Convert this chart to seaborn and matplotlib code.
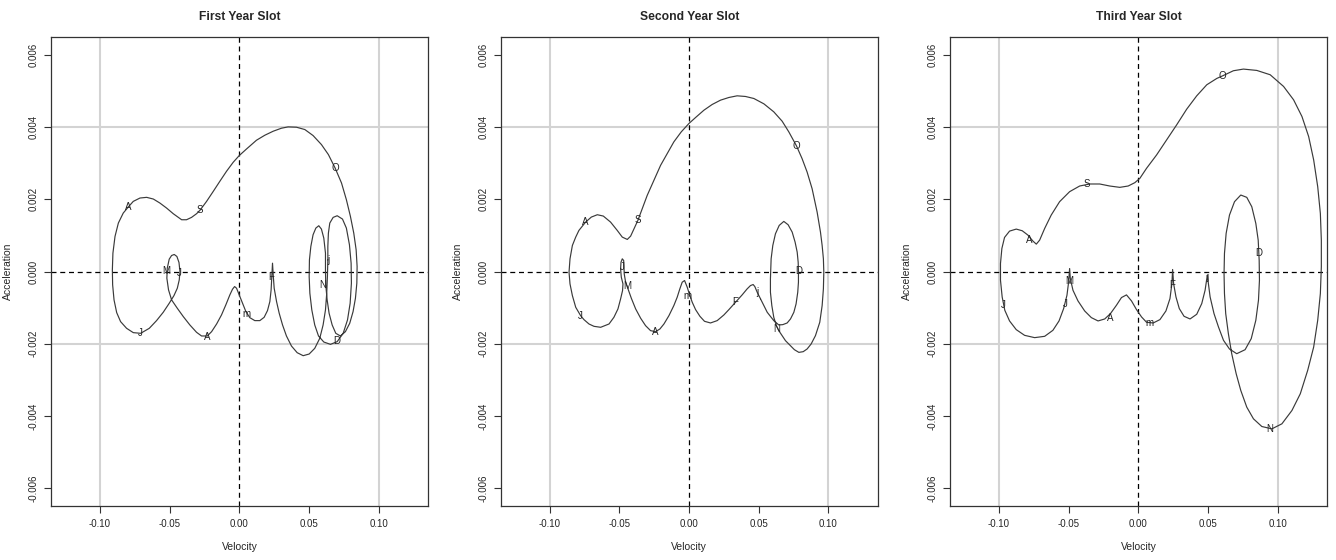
import numpy as np
import pandas as pd
import seaborn as sns
from matplotlib import pyplot as plt

# velocity / acceleration (acceleration in units of 1e-3)
vel1 = [0.0636, 0.0633, 0.0628, 0.0619, 0.0602, 0.0578, 0.0542, 0.0502, 0.0459, 0.0416,
        0.0375, 0.0339, 0.0311, 0.0287, 0.0268, 0.0251, 0.0244, 0.0239, 0.0234, 0.0229,
        0.0220, 0.0203, 0.0179, 0.0148, 0.0112, 0.0076, 0.0048, 0.0024, 0.0000, -0.0019,
        -0.0033, -0.0048, -0.0067, -0.0096, -0.0127, -0.0162, -0.0198, -0.0229, -0.0270, -0.0306,
        -0.0354, -0.0401, -0.0444, -0.0485, -0.0507, -0.0519, -0.0516, -0.0502, -0.0485, -0.0466,
        -0.0447, -0.0432, -0.0425, -0.0430, -0.0444, -0.0468, -0.0502, -0.0545, -0.0593, -0.0645,
        -0.0707, -0.0760, -0.0808, -0.0851, -0.0879, -0.0898, -0.0908, -0.0910, -0.0906, -0.0891,
        -0.0867, -0.0832, -0.0796, -0.0760, -0.0712, -0.0664, -0.0616, -0.0569, -0.0521, -0.0473,
        -0.0413, -0.0378, -0.0342, -0.0306, -0.0282, -0.0234, -0.0186, -0.0139, -0.0091, -0.0043,
        0.0000, 0.0053, 0.0124, 0.0184, 0.0244, 0.0303, 0.0351, 0.0411, 0.0471, 0.0530,
        0.0590, 0.0640, 0.0688, 0.0734, 0.0769, 0.0798, 0.0822, 0.0839, 0.0846, 0.0844,
        0.0834, 0.0817, 0.0793, 0.0762, 0.0726, 0.0693, 0.0667, 0.0645, 0.0631, 0.0621,
        0.0619, 0.0619, 0.0607, 0.0590, 0.0571, 0.0550, 0.0530, 0.0514, 0.0504, 0.0502,
        0.0507, 0.0521, 0.0542, 0.0569, 0.0607, 0.0655, 0.0703, 0.0746, 0.0777, 0.0796,
        0.0805, 0.0803, 0.0791, 0.0769, 0.0741, 0.0703, 0.0674, 0.0650, 0.0640, 0.0636]
acc1 = [0.324, -0.139, -0.602, -1.065, -1.481, -1.852, -2.130, -2.287, -2.333, -2.250,
        -2.065, -1.787, -1.481, -1.157, -0.833, -0.463, -0.093, 0.231, -0.139, -0.509,
        -0.833, -1.083, -1.269, -1.361, -1.361, -1.278, -1.111, -0.880, -0.648, -0.463,
        -0.417, -0.491, -0.648, -0.926, -1.204, -1.454, -1.667, -1.787, -1.787, -1.685,
        -1.481, -1.250, -1.019, -0.787, -0.509, -0.185, 0.093, 0.343, 0.444, 0.472,
        0.417, 0.250, 0.000, -0.231, -0.463, -0.667, -0.880, -1.130, -1.361, -1.574,
        -1.713, -1.694, -1.574, -1.389, -1.139, -0.787, -0.370, 0.046, 0.509, 0.972,
        1.343, 1.620, 1.787, 1.944, 2.037, 2.056, 2.009, 1.898, 1.759, 1.602,
        1.435, 1.435, 1.500, 1.602, 1.694, 1.944, 2.222, 2.500, 2.778, 3.028,
        3.213, 3.398, 3.639, 3.778, 3.889, 3.972, 4.009, 4.000, 3.935, 3.769,
        3.519, 3.241, 2.870, 2.454, 1.991, 1.528, 1.065, 0.602, 0.139, -0.324,
        -0.741, -1.111, -1.435, -1.667, -1.787, -1.713, -1.481, -1.157, -0.787, -0.370,
        0.046, 0.509, 0.926, 1.176, 1.269, 1.204, 1.019, 0.694, 0.324, -0.139,
        -0.602, -1.065, -1.481, -1.787, -1.954, -2.019, -1.944, -1.713, -1.343, -0.880,
        -0.324, 0.231, 0.741, 1.204, 1.454, 1.546, 1.500, 1.343, 1.065, 0.694]

vel2 = [0.0514, 0.0490, 0.0473, 0.0461, 0.0442, 0.0418, 0.0382, 0.0335, 0.0287, 0.0251,
        0.0203, 0.0155, 0.0112, 0.0079, 0.0048, 0.0024, 0.0007, -0.0012, -0.0031, -0.0048,
        -0.0065, -0.0084, -0.0108, -0.0143, -0.0179, -0.0208, -0.0239, -0.0275, -0.0311, -0.0346,
        -0.0382, -0.0413, -0.0437, -0.0454, -0.0464, -0.0466, -0.0468, -0.0478, -0.0487, -0.0490,
        -0.0485, -0.0473, -0.0476, -0.0490, -0.0509, -0.0538, -0.0573, -0.0633, -0.0681, -0.0717,
        -0.0753, -0.0777, -0.0812, -0.0836, -0.0853, -0.0860, -0.0853, -0.0836, -0.0812, -0.0789,
        -0.0741, -0.0700, -0.0657, -0.0614, -0.0562, -0.0514, -0.0478, -0.0442, -0.0418, -0.0394,
        -0.0366, -0.0335, -0.0299, -0.0251, -0.0203, -0.0155, -0.0108, -0.0055, 0.0000, 0.0048,
        0.0108, 0.0167, 0.0227, 0.0287, 0.0346, 0.0406, 0.0466, 0.0538, 0.0609, 0.0669,
        0.0717, 0.0772, 0.0812, 0.0848, 0.0884, 0.0920, 0.0944, 0.0956, 0.0965, 0.0968,
        0.0965, 0.0956, 0.0939, 0.0908, 0.0877, 0.0848, 0.0820, 0.0789, 0.0757, 0.0729,
        0.0693, 0.0669, 0.0645, 0.0628, 0.0609, 0.0595, 0.0585, 0.0585, 0.0590, 0.0602,
        0.0621, 0.0648, 0.0681, 0.0712, 0.0741, 0.0762, 0.0777, 0.0784, 0.0786, 0.0786,
        0.0781, 0.0769, 0.0753, 0.0729, 0.0705, 0.0674, 0.0645, 0.0609, 0.0562]
acc2 = [-0.759, -0.574, -0.417, -0.361, -0.389, -0.481, -0.648, -0.852, -1.056, -1.204,
        -1.361, -1.426, -1.380, -1.241, -1.056, -0.852, -0.667, -0.435, -0.250, -0.296,
        -0.481, -0.713, -0.944, -1.222, -1.454, -1.593, -1.667, -1.639, -1.500, -1.296,
        -1.037, -0.741, -0.481, -0.296, -0.065, 0.167, 0.306, 0.352, 0.259, 0.074,
        -0.157, -0.343, -0.528, -0.759, -1.037, -1.269, -1.454, -1.546, -1.519, -1.454,
        -1.333, -1.222, -0.991, -0.667, -0.343, -0.019, 0.352, 0.722, 0.954, 1.139,
        1.370, 1.509, 1.574, 1.537, 1.370, 1.139, 0.954, 0.889, 0.981, 1.185,
        1.417, 1.741, 2.111, 2.528, 2.944, 3.269, 3.593, 3.870, 4.102, 4.269,
        4.472, 4.630, 4.750, 4.824, 4.870, 4.852, 4.796, 4.648, 4.426, 4.167,
        3.870, 3.481, 3.130, 2.759, 2.296, 1.648, 1.093, 0.722, 0.352, -0.019,
        -0.481, -0.944, -1.407, -1.778, -2.009, -2.148, -2.222, -2.241, -2.167, -2.056,
        -1.917, -1.778, -1.639, -1.500, -1.269, -0.944, -0.574, -0.204, 0.352, 0.722,
        1.046, 1.278, 1.389, 1.296, 1.093, 0.815, 0.537, 0.259, 0.019, -0.296,
        -0.574, -0.898, -1.130, -1.315, -1.426, -1.472, -1.481, -1.361, -1.130]

vel3 = [0.0496, 0.0480, 0.0456, 0.0420, 0.0372, 0.0329, 0.0295, 0.0271, 0.0254, 0.0247,
        0.0242, 0.0228, 0.0199, 0.0156, 0.0108, 0.0060, 0.0024, -0.0012, -0.0048, -0.0084,
        -0.0120, -0.0156, -0.0199, -0.0240, -0.0288, -0.0336, -0.0384, -0.0432, -0.0468, -0.0487,
        -0.0492, -0.0499, -0.0511, -0.0535, -0.0568, -0.0612, -0.0671, -0.0743, -0.0815, -0.0875,
        -0.0923, -0.0957, -0.0976, -0.0988, -0.0988, -0.0978, -0.0959, -0.0923, -0.0875, -0.0832,
        -0.0791, -0.0755, -0.0731, -0.0707, -0.0671, -0.0624, -0.0564, -0.0492, -0.0420, -0.0348,
        -0.0276, -0.0204, -0.0132, -0.0072, -0.0024, 0.0012, 0.0060, 0.0132, 0.0204, 0.0276,
        0.0348, 0.0420, 0.0492, 0.0564, 0.0607, 0.0683, 0.0755, 0.0851, 0.0947, 0.1043,
        0.1115, 0.1175, 0.1223, 0.1259, 0.1288, 0.1307, 0.1314, 0.1314, 0.1307, 0.1288,
        0.1259, 0.1216, 0.1163, 0.1103, 0.1031, 0.0959, 0.0887, 0.0827, 0.0779, 0.0736,
        0.0703, 0.0671, 0.0647, 0.0628, 0.0619, 0.0616, 0.0619, 0.0631, 0.0655, 0.0691,
        0.0736, 0.0779, 0.0815, 0.0844, 0.0861, 0.0868, 0.0870, 0.0863, 0.0844, 0.0811,
        0.0767, 0.0707, 0.0655, 0.0612, 0.0576, 0.0544, 0.0516]
acc3 = [-0.102, -0.519, -0.889, -1.185, -1.315, -1.241, -1.028, -0.704, -0.333, 0.056,
        -0.333, -0.750, -1.093, -1.333, -1.426, -1.407, -1.259, -1.056, -0.815, -0.648,
        -0.722, -0.935, -1.167, -1.315, -1.370, -1.278, -1.093, -0.815, -0.519, -0.194,
        0.083, -0.287, -0.657, -1.028, -1.370, -1.630, -1.796, -1.833, -1.769, -1.611,
        -1.370, -1.074, -0.704, -0.241, 0.222, 0.639, 0.944, 1.120, 1.176, 1.130,
        1.009, 0.843, 0.759, 0.870, 1.194, 1.565, 1.935, 2.213, 2.370, 2.426,
        2.426, 2.370, 2.333, 2.370, 2.463, 2.583, 2.861, 3.231, 3.648, 4.065,
        4.500, 4.870, 5.176, 5.352, 5.426, 5.565, 5.611, 5.574, 5.454, 5.130,
        4.759, 4.296, 3.741, 3.093, 2.352, 1.611, 0.870, 0.130, -0.611, -1.352,
        -2.093, -2.741, -3.389, -3.852, -4.222, -4.361, -4.296, -4.083, -3.759, -3.296,
        -2.833, -2.278, -1.722, -1.167, -0.611, -0.056, 0.500, 1.056, 1.565, 1.935,
        2.120, 2.056, 1.796, 1.333, 0.870, 0.315, -0.241, -0.796, -1.352, -1.861,
        -2.167, -2.278, -2.148, -1.907, -1.537, -1.167, -0.704]

months = ['j', 'F', 'm', 'A', 'M', 'J', 'J', 'A', 'S', 'O', 'N', 'D']
lab_vel1 = [0.0638, 0.0232, 0.0053, -0.0229, -0.0521, -0.0430, -0.0707, -0.0796, -0.0282, 0.0688, 0.0597, 0.0703]
lab_acc1 = [0.324, -0.139, -1.176, -1.806, 0.028, -0.028, -1.713, 1.787, 1.694, 2.870, -0.370, -1.917]
lab_vel2 = [0.0490, 0.0335, -0.0012, -0.0239, -0.0442, -0.0478, -0.0777, -0.0741, -0.0366, 0.0772, 0.0633, 0.0786]
lab_acc2 = [-0.574, -0.852, -0.667, -1.667, -0.389, 0.120, -1.222, 1.370, 1.417, 3.481, -1.593, 0.019]
lab_vel3 = [0.0496, 0.0247, 0.0084, -0.0204, -0.0492, -0.0520, -0.0966, -0.0784, -0.0372, 0.0607, 0.0947, 0.0863]
lab_acc3 = [-0.148, -0.380, -1.426, -1.278, -0.259, -0.889, -0.935, 0.870, 2.417, 5.426, -4.361, 0.500]

titles = ['First Year Slot', 'Second Year Slot', 'Third Year Slot']
curves = [(vel1, acc1), (vel2, acc2), (vel3, acc3)]
labels = [(lab_vel1, lab_acc1), (lab_vel2, lab_acc2), (lab_vel3, lab_acc3)]

sns.set_style('ticks')
plt.rcParams['font.family'] = ['Liberation Sans', 'DejaVu Sans']

fig = plt.figure(figsize=(13.36, 5.6), dpi=100)
lefts = [0.0382, 0.3748, 0.7111]

for i in range(3):
    ax = fig.add_axes([lefts[i], 0.0964, 0.2822, 0.8375])
    v, a = curves[i]
    # close the loop back to the first point
    df = pd.DataFrame({'Velocity': v + v[:1], 'Acceleration': np.array(a + a[:1]) * 1e-3})
    for gx in [-0.1, 0.1]:
        ax.axvline(gx, color='#d3d3d3', lw=1.5, zorder=0)
    for gy in [0.004, -0.002]:
        ax.axhline(gy, color='#d3d3d3', lw=1.5, zorder=0)
    ax.axhline(0, color='black', lw=0.9, ls=(0, (4, 3)), zorder=1)
    ax.axvline(0, color='black', lw=0.9, ls=(0, (4, 3)), zorder=1)
    sns.lineplot(data=df, x='Velocity', y='Acceleration', sort=False, estimator=None,
                 color='#3a3a3a', lw=0.85, ax=ax, zorder=2)
    lv, la = labels[i]
    for m, x, y in zip(months, lv, la):
        ax.text(x, y * 1e-3, m, ha='center', va='center', fontsize=7, color='#222222', zorder=3)
    ax.set_xlim(-0.135, 0.1355)
    ax.set_ylim(-0.0065, 0.0065)
    ax.set_xticks([-0.10, -0.05, 0.00, 0.05, 0.10])
    ax.set_xticklabels(['-0.10', '-0.05', '0.00', '0.05', '0.10'])
    ax.set_yticks([-0.006, -0.004, -0.002, 0.000, 0.002, 0.004, 0.006])
    ax.set_yticklabels(['-0.006', '-0.004', '-0.002', '0.000', '0.002', '0.004', '0.006'],
                       rotation=90, va='center')
    ax.tick_params(labelsize=7, length=5, width=0.8, pad=4, color='#333333')
    ax.set_xlabel('Velocity', fontsize=7.5, labelpad=10)
    ax.set_ylabel('Acceleration', fontsize=7.5, labelpad=11)
    ax.set_title(titles[i], fontsize=8.7, fontweight='bold', pad=12)
    for s in ax.spines.values():
        s.set_visible(True)
        s.set_color('#333333')
        s.set_linewidth(0.9)

fig.savefig('out.png', dpi=100)
